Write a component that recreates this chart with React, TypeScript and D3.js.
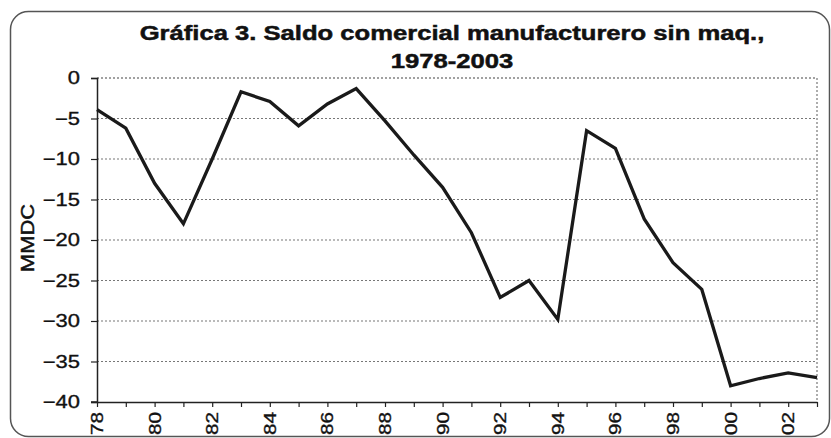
import React, { useEffect, useRef } from "react";
import * as d3 from "d3";

// Manufacturing trade balance excluding maquila, 1978-2003 (billions of dollars)
const years: number[] = [
  1978, 1979, 1980, 1981, 1982, 1983, 1984, 1985, 1986, 1987, 1988, 1989, 1990,
  1991, 1992, 1993, 1994, 1995, 1996, 1997, 1998, 1999, 2000, 2001, 2002, 2003,
];
const balance: number[] = [
  -3.9, -6.2, -13.0, -18.0, -10.0, -1.7, -2.9, -5.9, -3.2, -1.3, -5.3, -9.5, -13.5,
  -19.1, -27.1, -25.0, -29.8, -6.5, -8.7, -17.4, -22.8, -26.1, -38.0, -37.1, -36.4, -37.0,
];
const yTicks: number[] = [0, -5, -10, -15, -20, -25, -30, -35, -40];
const xTickYears: number[] = [1978, 1980, 1982, 1984, 1986, 1988, 1990, 1992, 1994, 1996, 1998, 2000, 2002];

const titleLines: string[] = ["Gráfica 3. Saldo comercial manufacturero sin maq.,", "1978-2003"];
const yLabel = "MMDC";

const W = 831;
const H = 438;
const plot = { left: 97, right: 817, top: 78, bottom: 402 };
const FONT = "'Liberation Sans', Arial, sans-serif";
// the typeface is set a little wider than Arial
const WIDE = 1.22;
const INK = "#111";

export default function App() {
  const ref = useRef<SVGSVGElement | null>(null);

  useEffect(() => {
    const svg = d3.select(ref.current);
    svg.selectAll("*").remove();

    const x = d3.scaleLinear().domain([1978, 2003]).range([plot.left, plot.right]);
    const y = d3.scaleLinear().domain([-40, 0]).range([plot.bottom, plot.top]);

    // outer frame
    svg
      .append("rect")
      .attr("x", 10.5)
      .attr("y", 11.5)
      .attr("width", 819)
      .attr("height", 425)
      .attr("rx", 18)
      .attr("fill", "#fff")
      .attr("stroke", "#555")
      .attr("stroke-width", 1.5);

    // title
    titleLines.forEach((t, i) => {
      svg
        .append("text")
        .attr("transform", `translate(452,${40 + i * 28}) scale(${WIDE},1)`)
        .attr("text-anchor", "middle")
        .attr("font-family", FONT)
        .attr("font-weight", "bold")
        .attr("font-size", 21)
        .attr("fill", INK)
        .attr("stroke", INK)
        .attr("stroke-width", 0.5)
        .text(t);
    });

    // dotted gridlines (including the top edge at 0)
    svg
      .append("g")
      .selectAll("line")
      .data(yTicks.filter((v) => v !== -40))
      .join("line")
      .attr("x1", plot.left)
      .attr("x2", plot.right)
      .attr("y1", (d) => y(d))
      .attr("y2", (d) => y(d))
      .attr("stroke", (d) => (d === 0 ? "#444" : "#777"))
      .attr("stroke-width", 1.2)
      .attr("stroke-dasharray", "2,2");

    // dotted right edge
    svg
      .append("line")
      .attr("x1", plot.right)
      .attr("x2", plot.right)
      .attr("y1", plot.top)
      .attr("y2", plot.bottom)
      .attr("stroke", "#777")
      .attr("stroke-width", 1.2)
      .attr("stroke-dasharray", "2,2");

    // y axis
    const yAxis = svg
      .append("g")
      .attr("transform", `translate(${plot.left},0)`)
      .call(d3.axisLeft(y).tickValues(yTicks).tickSize(6).tickPadding(11).tickFormat(d3.format("d")));
    yAxis.select(".domain").attr("stroke", "#222").attr("stroke-width", 1.5);
    yAxis.selectAll(".tick line").attr("stroke", "#222").attr("stroke-width", 1.2);
    yAxis
      .selectAll(".tick text")
      .attr("transform", `scale(${WIDE},1)`)
      .attr("x", -17 / WIDE)
      .attr("font-family", FONT)
      .attr("font-size", 18)
      .attr("fill", INK)
      .attr("stroke", INK)
      .attr("stroke-width", 0.35);

    // x axis: a tick every year, labels every two years
    const xAxis = svg
      .append("g")
      .attr("transform", `translate(0,${plot.bottom})`)
      .call(
        d3
          .axisBottom(x)
          .tickValues(years)
          .tickSize(5)
          .tickSizeOuter(0)
          .tickFormat(() => "")
      );
    xAxis.select(".domain").attr("stroke", "#222").attr("stroke-width", 1.5);
    xAxis.selectAll(".tick line").attr("stroke", "#222").attr("stroke-width", 1.2);
    // short left extension of the x axis
    svg
      .append("line")
      .attr("x1", plot.left - 6)
      .attr("x2", plot.left)
      .attr("y1", plot.bottom)
      .attr("y2", plot.bottom)
      .attr("stroke", "#222")
      .attr("stroke-width", 1.5);

    svg
      .append("g")
      .selectAll("text")
      .data(xTickYears)
      .join("text")
      .attr(
        "transform",
        (d) => `translate(${x(d) + 6},${plot.bottom + 10}) rotate(-90) scale(${WIDE},1)`
      )
      .attr("text-anchor", "end")
      .attr("font-family", FONT)
      .attr("font-size", 17)
      .attr("fill", INK)
      .attr("stroke", INK)
      .attr("stroke-width", 0.35)
      .text((d) => String(d % 100).padStart(2, "0"));

    // y axis title
    svg
      .append("text")
      .attr("transform", `translate(34,238) rotate(-90) scale(${WIDE},1)`)
      .attr("text-anchor", "middle")
      .attr("font-family", FONT)
      .attr("font-size", 18)
      .attr("fill", INK)
      .attr("stroke", INK)
      .attr("stroke-width", 0.45)
      .text(yLabel);

    // series line
    const line = d3
      .line<number>()
      .x((_, i) => x(years[i]))
      .y((d) => y(d));
    svg
      .append("path")
      .datum(balance)
      .attr("d", line)
      .attr("fill", "none")
      .attr("stroke", "#1a1a1a")
      .attr("stroke-width", 3.3)
      .attr("stroke-linejoin", "miter");
  }, []);

  return (
    <svg
      ref={ref}
      width={W}
      height={H}
      style={{ display: "block", position: "absolute", left: 0, top: 0 }}
    />
  );
}
